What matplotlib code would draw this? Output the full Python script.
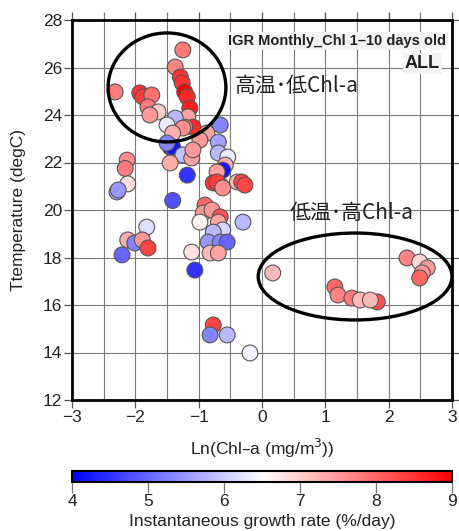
import matplotlib
matplotlib.use("Agg")
import matplotlib.pyplot as plt
from matplotlib.patches import Ellipse
import numpy as np

plt.rcParams['font.family'] = ['Liberation Sans', 'DejaVu Sans']

# ---- data: ln(Chl-a), temperature, growth rate ----
ln_chl = [-1.25, -1.37, -1.29, -1.26, -1.22, -1.18, -1.14, -1.17, -1.09, -1.22,
          -2.32, -1.93, -1.88, -1.74, -1.80, -1.64, -1.77, -1.37, -1.50, -1.25,
          -1.41, -0.66, -0.87, -0.98, -0.69, -1.45, -1.41, -1.50, -1.25, -1.11,
          -1.09, -1.45, -1.18, -0.69, -0.54, -0.58, -0.62, -0.71, -0.77, -0.66,
          -0.71, -0.62, -0.39, -0.32, -0.27, -1.41,
          -2.13, -2.16, -2.12, -2.29, -2.27, -1.82, -2.12, -2.01, -1.89, -1.80, -2.21,
          -0.90, -0.93, -0.79, -0.66, -0.69, -0.98, -0.62, -0.77, -0.85, -0.66, -0.55,
          -0.82, -0.69, -1.11, -0.30, -1.06,
          -0.77, -0.82, -0.55, -0.19,
          0.17, 1.15, 1.20, 1.42, 1.82, 1.55, 1.71, 2.29, 2.49, 2.61, 2.53, 2.49]
temp = [26.74, 26.02, 25.60, 25.35, 24.97, 24.76, 24.29, 23.92, 23.49, 23.49,
        24.97, 24.93, 24.76, 24.84, 24.34, 24.13, 24.00, 23.87, 23.58, 23.45,
        23.24, 23.58, 23.24, 22.95, 22.86, 22.65, 22.65, 22.82, 22.32, 22.19,
        22.53, 21.98, 21.47, 22.40, 22.23, 21.89, 21.68, 21.60, 21.14, 21.05,
        21.18, 20.93, 21.18, 21.18, 21.05, 20.40,
        22.10, 21.75, 21.10, 20.76, 20.84, 19.28, 18.74, 18.61, 18.74, 18.40, 18.11,
        20.21, 19.87, 20.00, 19.71, 19.49, 19.49, 19.16, 19.07, 18.65, 18.65, 18.65,
        18.19, 18.19, 18.23, 19.49, 17.47,
        15.16, 14.74, 14.74, 13.98,
        17.35, 16.76, 16.42, 16.29, 16.13, 16.21, 16.21, 17.98, 17.81, 17.56, 17.35, 17.14]
growth = [7.8, 7.7, 8.5, 8.5, 9.0, 8.6, 8.7, 7.4, 8.6, 7.6,
          7.8, 8.5, 8.4, 7.9, 7.8, 7.0, 7.5, 5.8, 6.3, 7.6,
          7.3, 5.3, 7.4, 7.5, 5.6, 4.7, 4.2, 5.3, 5.9, 7.4,
          7.5, 7.3, 4.5, 5.8, 6.3, 7.3, 4.2, 7.4, 8.5, 7.5,
          8.4, 7.6, 7.2, 8.3, 8.3, 4.8,
          7.6, 7.8, 6.8, 5.7, 5.5, 6.2, 7.3, 5.3, 7.5, 8.3, 5.0,
          8.0, 7.5, 7.5, 8.2, 7.4, 6.6, 6.1, 5.8, 5.5, 5.3, 5.0,
          7.2, 7.4, 6.8, 5.8, 4.5,
          8.3, 5.3, 5.8, 6.4,
          7.2, 8.0, 7.7, 7.8, 8.2, 7.2, 7.2, 7.7, 6.9, 7.5, 7.5, 8.0]

x_ticks = [-3, -2, -1, 0, 1, 2, 3]
y_ticks = [12, 14, 16, 18, 20, 22, 24, 26, 28]
cbar_ticks = [4, 5, 6, 7, 8, 9]

fig = plt.figure(figsize=(4.59, 5.31), dpi=100)
ax = fig.add_axes([72/459, 1-400/531, 380/459, 380/531])

sc = ax.scatter(ln_chl, temp, c=growth, cmap='bwr', vmin=4, vmax=9, s=130,
                edgecolors='#555555', linewidths=0.8, zorder=3)

ax.set_xlim(-3, 3)
ax.set_ylim(12, 28)
ax.set_xticks(x_ticks)
ax.set_xticks(np.arange(-3, 3.01, 0.5), minor=True)
ax.set_yticks(y_ticks)
ax.grid(True, which='both', axis='x', color='#7a7a7a', lw=0.8, zorder=0)
ax.grid(True, which='major', axis='y', color='#7a7a7a', lw=0.8, zorder=0)
ax.tick_params(axis='both', which='major', direction='out', length=6, width=0.9,
               color='#555555', labelsize=12.5, labelcolor='#222222',
               top=True, right=True, pad=1)
ax.tick_params(axis='x', which='minor', direction='out', length=6, width=0.9,
               color='#7a7a7a', top=True, bottom=False)
for sp in ax.spines.values():
    sp.set_linewidth(2.0)
    sp.set_color('black')

ax.set_xlabel('Ln(Chl–a (mg/m$^{3}$))', fontsize=12.5, color='#222222', labelpad=9)
ax.set_ylabel('Ttemperature (degC)', fontsize=12.5, color='#222222', labelpad=12)

# ellipses
ax.add_patch(Ellipse((-1.50, 25.16), 1.86, 4.59, fill=False, ec='black', lw=2.4, zorder=4))
ax.add_patch(Ellipse((1.47, 17.20), 3.06, 3.66, fill=False, ec='black', lw=2.4, zorder=4))

ax.text(0.985, 0.945, 'IGR Monthly_Chl 1–10 days old', transform=ax.transAxes,
        ha='right', va='center', fontsize=10.5, fontweight='bold', color='#222222',
        bbox=dict(facecolor='#f4f4f4', edgecolor='none', pad=1.5), zorder=5)
ax.text(0.968, 0.885, 'ALL', transform=ax.transAxes,
        ha='right', va='center', fontsize=13, fontweight='bold', color='#222222',
        bbox=dict(facecolor='#f4f4f4', edgecolor='none', pad=1.5), zorder=5)
ax.text(0.428, 0.825, '高温･低Chl-a', transform=ax.transAxes, ha='left', va='center',
        fontsize=15, color='#222222', family=['Noto Sans CJK JP', 'DejaVu Sans'], zorder=5)
ax.text(0.572, 0.493, '低温･高Chl-a', transform=ax.transAxes, ha='left', va='center',
        fontsize=15, color='#222222', family=['Noto Sans CJK JP', 'DejaVu Sans'], zorder=5)

cax = fig.add_axes([72/459, 1-482/531, 380/459, 11/531])
cb = fig.colorbar(sc, cax=cax, orientation='horizontal', ticks=cbar_ticks)
cb.outline.set_linewidth(1.5)
cb.ax.tick_params(direction='out', length=8, width=0.9, color='#777777',
                  labelsize=12.5, labelcolor='#222222', pad=1)
cb.set_label('Instantaneous growth rate (%/day)', fontsize=12.5, color='#222222', labelpad=3)

fig.savefig('out.png', dpi=100)
